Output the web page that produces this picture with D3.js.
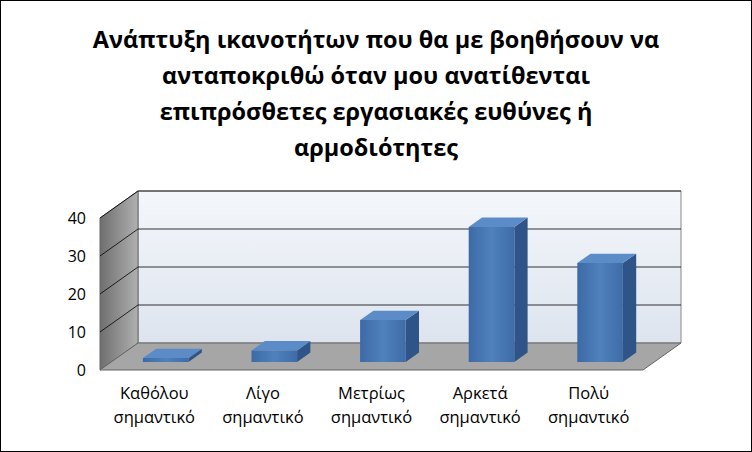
<!DOCTYPE html>
<html>
<head>
<meta charset="utf-8">
<script src="https://d3js.org/d3.v7.min.js"></script>
<style>
  body { margin:0; background:#fff; }
  svg { font-family: "Open Sans", "Liberation Sans", sans-serif; }
</style>
</head>
<body>
<svg id="chart" width="752" height="452"></svg>
<script>
const titleLines = ["Ανάπτυξη ικανοτήτων που θα με βοηθήσουν να",
  "ανταποκριθώ όταν μου ανατίθενται",
  "επιπρόσθετες εργασιακές ευθύνες ή",
  "αρμοδιότητες"];
const categories = [["Καθόλου","σημαντικό"],["Λίγο","σημαντικό"],["Μετρίως","σημαντικό"],["Αρκετά","σημαντικό"],["Πολύ","σημαντικό"]];
const values = [1, 3, 11, 35.5, 26];
const ticks = [0, 10, 20, 30, 40];

const svg = d3.select("#chart");
svg.append("rect").attr("x",0.5).attr("y",0.5).attr("width",751).attr("height",451)
  .attr("fill","#fff").attr("stroke","#000");

svg.append("g").selectAll("text").data(titleLines).join("text")
  .attr("x",376).attr("y",(d,i)=>48+i*36).attr("text-anchor","middle")
  .attr("font-size",23.5).attr("font-weight","bold").text(d=>d);

// 3D projection: front plane x0..x1, depth offset
const x0 = 100, x1 = 643, DX = 38, DY = -27;
const y = d3.scaleLinear().domain([0,40]).range([370,218]);
const x = d3.scaleBand().domain(d3.range(categories.length)).range([x0,x1]).paddingInner(0.58).paddingOuter(0.29);
const P = (px, v, z) => [px + DX*z, y(v) + DY*z];

const defs = svg.append("defs");
const g1 = defs.append("linearGradient").attr("id","back").attr("x1",0).attr("y1",0).attr("x2",0).attr("y2",1);
g1.append("stop").attr("offset",0).attr("stop-color","#f4f7fb");
g1.append("stop").attr("offset",1).attr("stop-color","#dde4ee");
const g2 = defs.append("linearGradient").attr("id","side").attr("x1",0).attr("y1",0).attr("x2",1).attr("y2",0);
g2.append("stop").attr("offset",0).attr("stop-color","#6f6f6f");
g2.append("stop").attr("offset",1).attr("stop-color","#b0b0b0");
const g3 = defs.append("linearGradient").attr("id","bar").attr("x1",0).attr("y1",0).attr("x2",1).attr("y2",0);
g3.append("stop").attr("offset",0).attr("stop-color","#3d6aa6");
g3.append("stop").attr("offset",0.5).attr("stop-color","#4f81bd");
g3.append("stop").attr("offset",1).attr("stop-color","#3f6ca8");

const poly = pts => "M" + pts.map(p=>p.join(",")).join("L") + "Z";

// walls
svg.append("path").attr("d", poly([P(x0,0,1),P(x1,0,1),P(x1,40,1),P(x0,40,1)]))
  .attr("fill","url(#back)").attr("stroke","#888");
svg.append("path").attr("d", poly([P(x0,0,0),P(x0,0,1),P(x0,40,1),P(x0,40,0)]))
  .attr("fill","url(#side)").attr("stroke","#666");
svg.append("path").attr("d", poly([P(x0,0,0),P(x1,0,0),P(x1,0,1),P(x0,0,1)]))
  .attr("fill","#a6a6a6").attr("stroke","#666");

// gridlines
const grid = svg.append("g").attr("stroke","#000").attr("stroke-width",0.8);
ticks.slice(1).forEach(t => {
  grid.append("path").attr("fill","none")
    .attr("d", "M"+[P(x0,t,0),P(x0,t,1),P(x1,t,1)].map(p=>p.join(",")).join("L"));
});

// y tick labels
svg.append("g").selectAll("text").data(ticks).join("text")
  .attr("x",86).attr("y",d=>y(d)+6).attr("text-anchor","end")
  .attr("font-size",16).text(d=>d);

// bars
const z0 = 0.3, z1 = 0.65;
const bars = svg.append("g");
values.forEach((v,i) => {
  const l = x(i), r = x(i)+x.bandwidth();
  bars.append("path").attr("d", poly([P(r,0,z0),P(r,0,z1),P(r,v,z1),P(r,v,z0)])).attr("fill","#2f5487");
  bars.append("path").attr("d", poly([P(l,v,z0),P(r,v,z0),P(r,v,z1),P(l,v,z1)])).attr("fill","#5b8cc8");
  bars.append("path").attr("d", poly([P(l,0,z0),P(r,0,z0),P(r,v,z0),P(l,v,z0)])).attr("fill","url(#bar)");
});

// category labels
const cl = svg.append("g").selectAll("text").data(categories).join("text")
  .attr("text-anchor","middle").attr("font-size",16.5);
cl.each(function(d,i){
  const cx = x(i) + x.bandwidth()/2;
  d3.select(this).selectAll("tspan").data(d).join("tspan")
    .attr("x",cx).attr("y",(s,j)=>399+j*24).text(s=>s);
});
</script>
</body>
</html>
